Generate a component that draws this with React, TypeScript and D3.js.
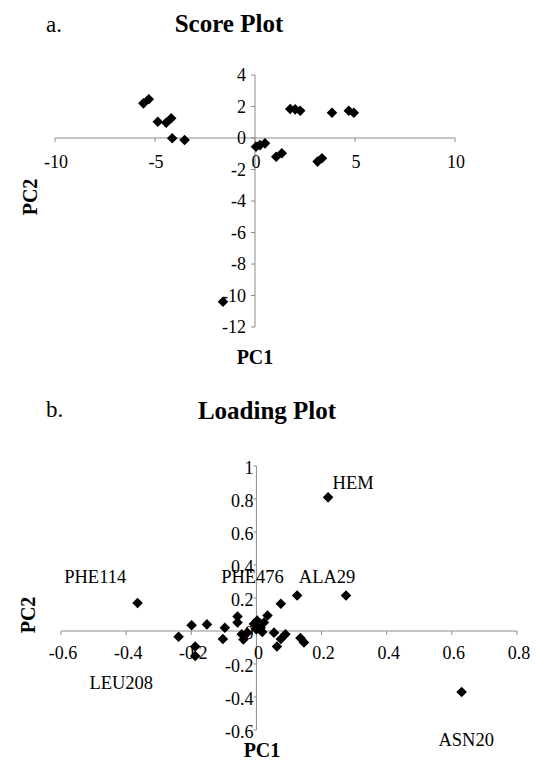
import * as d3 from "d3";

// Score plot (PC1 vs PC2 scores)
const scorePC1 = [-5.58, -5.31, -4.86, -4.44, -4.19, -4.14, -3.52, 0.05, 0.25, 0.5, 1.06, 1.34, 3.13, 3.35, 1.76, 2.01, 2.26, 3.85, 4.69, 4.94, -1.6];
const scorePC2 = [2.2, 2.46, 1.03, 0.97, 1.25, -0.02, -0.13, -0.55, -0.45, -0.34, -1.19, -0.97, -1.5, -1.29, 1.84, 1.82, 1.73, 1.6, 1.73, 1.6, -10.4];
const scoreXTicks = [-10, -5, 0, 5, 10];
const scoreYTicks = [-12, -10, -8, -6, -4, -2, 0, 2, 4];

// Loading plot (PC1 vs PC2 loadings)
const loadPC1 = [-0.365, -0.199, -0.152, -0.239, -0.188, -0.188, -0.097, -0.103, -0.058, -0.058, -0.045, -0.04, -0.028,
  -0.008, 0.002, 0.013, 0.023, 0.034, 0.018, 0.0, 0.054, 0.063, 0.075, 0.089, 0.075, 0.125, 0.275, 0.135, 0.146, 0.22, 0.63];
const loadPC2 = [0.17, 0.035, 0.04, -0.035, -0.094, -0.152, 0.02, -0.048, 0.088, 0.052, -0.02, -0.052, -0.01,
  0.042, 0.063, 0.02, 0.052, 0.094, -0.006, 0.01, -0.01, -0.094, -0.048, -0.02, 0.165, 0.215, 0.215, -0.042, -0.069, 0.81, -0.37];
const loadXTicks = [-0.6, -0.4, -0.2, 0, 0.2, 0.4, 0.6, 0.8];
const loadYTicks = [-0.6, -0.4, -0.2, 0, 0.2, 0.4, 0.6, 0.8, 1];

// residue annotations (data coordinates)
const annNames = ["HEM", "PHE114", "PHE476", "ALA29", "LEU208", "ASN20"];
const annX = [0.297, -0.495, -0.012, 0.217, -0.415, 0.644];
const annY = [0.9, 0.33, 0.33, 0.33, -0.31, -0.66];

const serif = "Liberation Serif, Times New Roman, DejaVu Serif, serif";
const axisColor = "#8c8c8c";
const tickSize = 18;

const diamond = d3.symbol(d3.symbolSquare, 56)();

const fmt = (v: number) => (v === 0 ? "0" : String(v));

export default function App() {
  const xS = d3.scaleLinear().domain([-10, 10]).range([55, 455]);
  const yS = d3.scaleLinear().domain([-12, 4]).range([327, 75]);
  const xL = d3.scaleLinear().domain([-0.6, 0.8]).range([61, 517]);
  const yL = d3.scaleLinear().domain([-0.6, 1]).range([730, 466]);

  return (
    <svg width={537} height={761} style={{ position: "absolute", left: 0, top: 0, background: "#fff", fontFamily: serif }}>
      {/* ---- a. Score Plot ---- */}
      <text x={46} y={32} fontSize={23}>a.</text>
      <text x={229} y={32} fontSize={25} fontWeight="bold" textAnchor="middle">Score Plot</text>

      <g>
        <line x1={xS(-10)} x2={xS(10)} y1={yS(0)} y2={yS(0)} stroke={axisColor} />
        <line x1={xS(0)} x2={xS(0)} y1={yS(4)} y2={yS(-12)} stroke={axisColor} />
        {scoreXTicks.map(t => (
          <g key={"sx" + t}>
            <line x1={xS(t)} x2={xS(t)} y1={yS(0)} y2={yS(0) + 4} stroke={axisColor} />
            <text x={xS(t) + 1} y={yS(0) + 30} fontSize={tickSize} textAnchor="middle">{fmt(t)}</text>
          </g>
        ))}
        {scoreYTicks.map(t => (
          <g key={"sy" + t}>
            <line x1={xS(0) - 4} x2={xS(0)} y1={yS(t)} y2={yS(t)} stroke={axisColor} />
            <text x={xS(0) - 9} y={yS(t)} dy="0.35em" fontSize={tickSize} textAnchor="end">{fmt(t)}</text>
          </g>
        ))}
        {scorePC1.map((v, i) => (
          <path key={"sp" + i} d={diamond} transform={`translate(${xS(v)},${yS(scorePC2[i])}) rotate(45)`} fill="#000" />
        ))}
        <text x={255} y={364} fontSize={20} fontWeight="bold" textAnchor="middle">PC1</text>
        <text transform="translate(37,197) rotate(-90)" fontSize={20} fontWeight="bold" textAnchor="middle">PC2</text>
      </g>

      {/* ---- b. Loading Plot ---- */}
      <text x={46} y={417} fontSize={23}>b.</text>
      <text x={267} y={419} fontSize={25} fontWeight="bold" textAnchor="middle">Loading Plot</text>

      <g>
        <line x1={xL(-0.6)} x2={xL(0.8)} y1={yL(0)} y2={yL(0)} stroke={axisColor} />
        <line x1={xL(0)} x2={xL(0)} y1={yL(1)} y2={yL(-0.6)} stroke={axisColor} />
        {loadXTicks.map(t => (
          <g key={"lx" + t}>
            <line x1={xL(t)} x2={xL(t)} y1={yL(0)} y2={yL(0) + 4} stroke={axisColor} />
            <text x={xL(t) + 2} y={yL(0) + 28} fontSize={tickSize} textAnchor="middle">{fmt(t)}</text>
          </g>
        ))}
        {loadYTicks.map(t => (
          <g key={"ly" + t}>
            <line x1={xL(0) - 3} x2={xL(0)} y1={yL(t)} y2={yL(t)} stroke={axisColor} />
            <text x={xL(0) - 3} y={yL(t) + 2} dy="0.35em" fontSize={tickSize} textAnchor="end">{fmt(t)}</text>
          </g>
        ))}
        {loadPC1.map((v, i) => (
          <path key={"lp" + i} d={diamond} transform={`translate(${xL(v)},${yL(loadPC2[i])}) rotate(45)`} fill="#000" />
        ))}
        {annNames.map((n, i) => (
          <text key={n} x={xL(annX[i])} y={yL(annY[i])} dy="0.35em" fontSize={18.5} textAnchor="middle">{n}</text>
        ))}
        <text x={262} y={757} fontSize={20} fontWeight="bold" textAnchor="middle">PC1</text>
        <text transform="translate(35,615) rotate(-90)" fontSize={20} fontWeight="bold" textAnchor="middle">PC2</text>
      </g>
    </svg>
  );
}
